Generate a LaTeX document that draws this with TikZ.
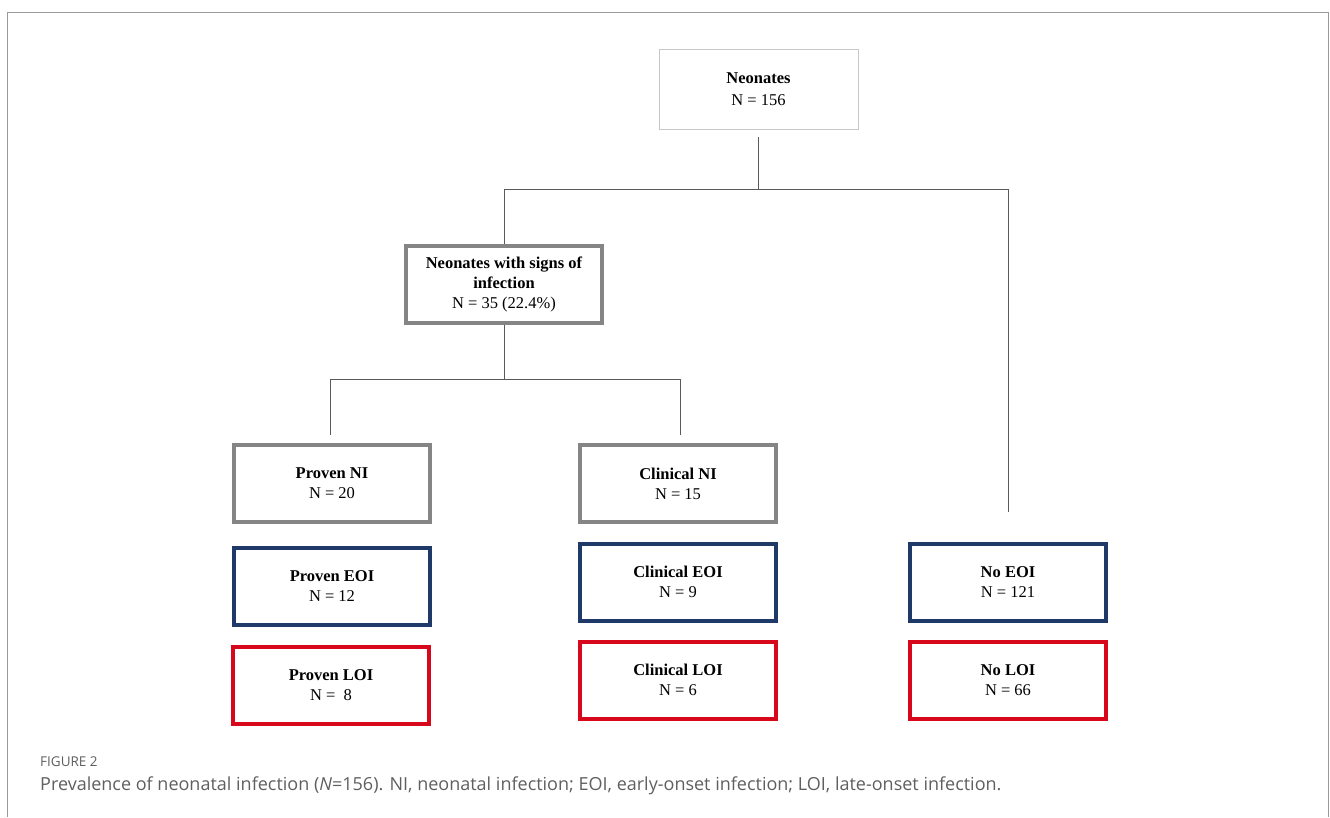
\documentclass[tikz,border=0pt]{standalone}
\usepackage{fontspec}
\setmainfont{Liberation Serif}
\newfontfamily\capfont{Open Sans}
\definecolor{boxgray}{HTML}{858585}
\definecolor{navy}{HTML}{1F3A68}
\definecolor{boxred}{HTML}{D7081C}
\definecolor{linegray}{HTML}{5A5A5A}
\definecolor{framegray}{HTML}{9A9A9A}
\definecolor{captext}{HTML}{5F5F5F}
\begin{document}
\begin{tikzpicture}[x=1pt,y=-1pt,
  box/.style={draw, line width=4pt, minimum width=196pt, minimum height=77pt, align=center, inner sep=0pt,
    font=\fontsize{16.5}{20}\selectfont},
  graybox/.style={box, draw=boxgray},
  navybox/.style={box, draw=navy},
  redbox/.style={box, draw=boxred},
  conn/.style={draw=linegray, line width=0.8pt},
]
\useasboundingbox (0,0) rectangle (1330,817);
% frame
\draw[framegray, line width=1.6pt] (7.5,817) -- (7.5,12.5) -- (1328.5,12.5) -- (1328.5,817);

\node[draw=black!22, line width=1pt, minimum width=199pt, minimum height=80pt, align=center, inner sep=0pt,
  font=\fontsize{16.5}{22}\selectfont] (neo) at (758.5,89) {\textbf{Neonates}\\N = 156};
\node[graybox] (signs) at (504,284) {\textbf{Neonates with signs of}\\\textbf{infection}\\N = 35 (22.4\%)};
\node[graybox] (pni) at (332,483.5) {\textbf{Proven NI}\\N = 20};
\node[graybox] (cni) at (678,483.5) {\textbf{Clinical NI}\\N = 15};
\node[navybox] (peoi) at (332,586) {\textbf{Proven EOI}\\N = 12};
\node[navybox] (ceoi) at (678,582) {\textbf{Clinical EOI}\\N = 9};
\node[navybox] (neoi) at (1008,582) {\textbf{No EOI}\\N = 121};
\node[redbox] (ploi) at (331,685) {\textbf{Proven LOI}\\N =\ \ 8};
\node[redbox] (cloi) at (678,680) {\textbf{Clinical LOI}\\N = 6};
\node[redbox] (nloi) at (1008,680) {\textbf{No LOI}\\N = 66};

% connectors
\coordinate (t1) at (758,137);
\coordinate (j1) at (758,189);
\coordinate (noend) at (1008,512);
\coordinate (j2) at (504,379);
\coordinate (pend) at (330,435);
\coordinate (cend) at (680,435);
\draw[conn] (t1) -- (j1) -| (signs.north);
\draw[conn] (j1) -| (noend);
\draw[conn] (signs.south) -- (j2) -| (pend);
\draw[conn] (j2) -| (cend);

% caption
\node[anchor=base west, inner sep=0pt, text=captext, font=\capfont\fontsize{13.5}{16}\selectfont] (figlab) at (40,766) {FIGURE 2};
\node[anchor=base west, inner sep=0pt, text=captext, font=\capfont\fontsize{18}{22}\selectfont] (cap) at (40,790)
  {Prevalence of neonatal infection (\textit{N}=156). NI, neonatal infection; EOI, early-onset infection; LOI, late-onset infection.};
\end{tikzpicture}
\end{document}
